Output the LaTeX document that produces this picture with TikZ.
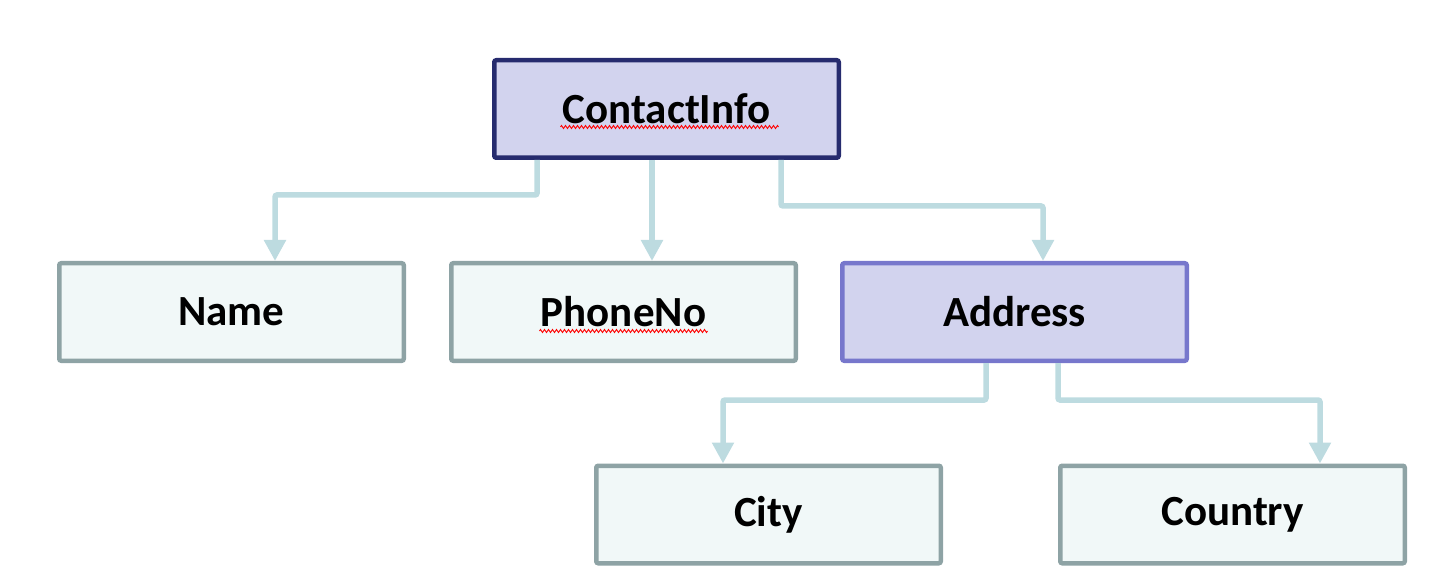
\documentclass[tikz,border=0pt]{standalone}
\usepackage{fontspec}
\setmainfont{Carlito}
\usetikzlibrary{arrows.meta,decorations.pathmorphing}
\definecolor{topFill}{HTML}{D2D3EE}
\definecolor{topLine}{HTML}{262B6E}
\definecolor{midLine}{HTML}{7777CC}
\definecolor{leafFill}{HTML}{F1F8F8}
\definecolor{leafLine}{HTML}{8EA3A5}
\definecolor{linkColor}{HTML}{BDDBE0}
\begin{document}
\begin{tikzpicture}[x=1pt, y=-1pt,
    boxStyle/.style={rectangle, rounded corners=2pt, line width=4.5pt, inner sep=0pt,
        minimum width=344.5pt, minimum height=97.5pt,
        font=\fontsize{43}{50}\selectfont\bfseries},
    leafStyle/.style={boxStyle, draw=leafLine, fill=leafFill},
    linkStyle/.style={draw=linkColor, line width=5.5pt, rounded corners=2pt,
        -{Triangle[width=21pt, length=21pt]}},
    squiggle/.style={draw=red, line width=0.9pt,
        decorate, decoration={zigzag, amplitude=1.5pt, segment length=4pt}}]
    \useasboundingbox (0,0) rectangle (1446,588);

    \node[boxStyle, draw=topLine, fill=topFill](contact) at (666.5, 109) {ContactInfo};
    \node[leafStyle](name) at (231.5, 312) {Name};
    \node[leafStyle](phone) at (623.5, 312) {PhoneNo};
    \node[boxStyle, draw=midLine, fill=topFill](address) at (1014.5, 312) {Address};
    \node[leafStyle](city) at (768.5, 514.5) {City};
    \node[leafStyle](country) at (1232.5, 514.5) {Country};

    \draw[linkStyle] ([xshift=-129.5pt]contact.south) -- ++(0,35) -| ([xshift=43.5pt]name.north);
    \draw[linkStyle] ([xshift=-14.5pt]contact.south) -- ([xshift=28.5pt]phone.north);
    \draw[linkStyle] ([xshift=114.5pt]contact.south) -- ++(0,46) -| ([xshift=28.5pt]address.north);
    \draw[linkStyle] ([xshift=-28.5pt]address.south) -- ++(0,37) -| ([xshift=-45.5pt]city.north);
    \draw[linkStyle] ([xshift=43.5pt]address.south) -- ++(0,37) -| ([xshift=87.5pt]country.north);

    \draw[squiggle] ([xshift=-106pt, yshift=-18pt]contact.center) -- ++(218,0);
    \draw[squiggle] ([xshift=-84pt, yshift=-19pt]phone.center) -- ++(168,0);
\end{tikzpicture}
\end{document}
